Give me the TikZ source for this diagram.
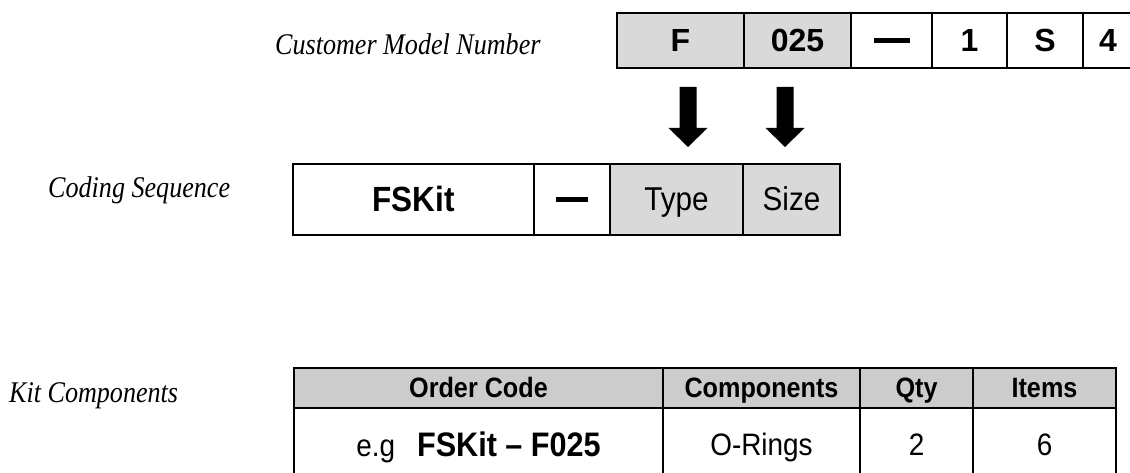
\documentclass[tikz,border=0pt]{standalone}
\usepackage{fontspec}
\setmainfont{Liberation Serif}
\setsansfont{Liberation Sans}
\newfontfamily\labfont[FakeStretch=0.87]{Liberation Serif}
\newfontfamily\cellfont[FakeStretch=0.9]{Liberation Sans}
\definecolor{cellgray}{HTML}{D9D9D9}
\definecolor{headgray}{HTML}{CCCCCC}
\newcommand\blockdown[1]{\fill (#1) ++(-8.5,0) -- ++(17,0) -- ++(0,41) -- ++(11,0) -- ++(-19.5,19) -- ++(-19.5,-19) -- ++(11,0) -- cycle;}
\begin{document}
\begin{tikzpicture}[x=1pt,y=-1pt,
  lab/.style={font=\labfont\itshape\fontsize{30}{31}\selectfont, anchor=base west, inner sep=0pt},
  capfix/.style={text height=#1, text depth=0pt},
  topcell/.style={draw, line width=2.8pt, inner sep=0pt, minimum height=55pt, minimum width=#1,
    font=\sffamily\bfseries\fontsize{32}{32}\selectfont},
  codecell/.style={draw, line width=2.8pt, inner sep=0pt, minimum height=71pt, minimum width=#1,
    font=\cellfont\fontsize{33}{33}\selectfont},
  headcell/.style={draw, fill=headgray, line width=2.8pt, inner sep=0pt, minimum height=40pt, minimum width=#1,
    font=\cellfont\bfseries\fontsize{28}{28}\selectfont, capfix=19.3pt},
  rowcell/.style={draw, line width=2.8pt, inner sep=0pt, minimum height=74pt, minimum width=#1,
    font=\cellfont\fontsize{31}{31}\selectfont, capfix=21.5pt},
  ]
\useasboundingbox (0,0) rectangle (1130,473);
% labels
\node[lab] (lcmn) at (275,55) {Customer Model Number};
\node[lab] (lcs) at (48,198) {Coding Sequence};
\node[lab] (lkc) at (9,402) {Kit Components};
% top row
\node[topcell=127pt, fill=cellgray, capfix=22pt] (tF) at (680.5,40.5) {F};
\node[topcell=107pt, fill=cellgray, capfix=22pt] (t025) at (797.5,40.5) {025};
\node[topcell=81pt] (tdash) at (891.5,40.5) {\rule{36pt}{5pt}};
\node[topcell=75pt, capfix=22pt] (t1) at (969.5,40.5) {1};
\node[topcell=76pt, capfix=22pt] (tS) at (1045,40.5) {S};
\node[topcell=50pt, capfix=22pt] (t4) at (1108,40.5) {4};
% coding sequence
\node[codecell=241pt, capfix=24pt, font=\cellfont\bfseries\fontsize{35}{35}\selectfont] (cFS) at (413.5,199.5) {FSKit};
\node[codecell=76pt] (cdash) at (572,199.5) {\rule{32pt}{5pt}};
\node[codecell=133pt, fill=cellgray, capfix=22.7pt] (cType) at (676.5,199.5) {Type};
\node[codecell=97pt, fill=cellgray, capfix=22.7pt] (cSize) at (791.5,199.5) {Size};
% arrows
\coordinate (a1) at (688,87);
\coordinate (a2) at (785,87);
\blockdown{a1}
\blockdown{a2}
% kit table
\node[headcell=369pt] (hOC) at (478.5,388) {Order Code};
\node[headcell=197pt] (hComp) at (761.5,388) {Components};
\node[headcell=113pt] (hQty) at (916.5,388) {Qty};
\node[headcell=143pt] (hItems) at (1044.5,388) {Items};
\node[rowcell=369pt, capfix=22.5pt] (rOC) at (478.5,445) {e.g\hspace{22pt}{\bfseries\fontsize{34}{34}\selectfont FSKit – F025}};
\node[rowcell=197pt] (rComp) at (761.5,445) {O-Rings};
\node[rowcell=113pt] (rQty) at (916.5,445) {2};
\node[rowcell=143pt] (rItems) at (1044.5,445) {6};
\end{tikzpicture}
\end{document}
